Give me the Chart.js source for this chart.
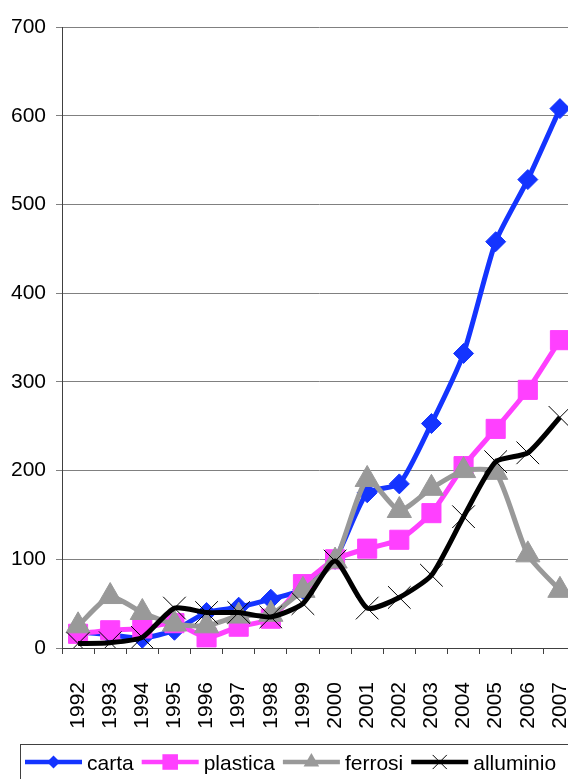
<!DOCTYPE html>
<html>
<head>
<meta charset="utf-8">
<script src="https://cdn.jsdelivr.net/npm/chart.js@4/dist/chart.umd.min.js"></script>
<style>
  html, body { margin: 0; padding: 0; background: #fff; overflow: hidden; }
  #wrap { width: 568px; height: 779px; overflow: hidden; }
  canvas { display: block; }
</style>
</head>
<body>
<div id="wrap"><canvas id="c" width="593" height="779"></canvas></div>
<script>
// Categories: years
const years = ['1992','1993','1994','1995','1996','1997','1998','1999','2000','2001','2002','2003','2004','2005','2006','2007'];

// Series values
const carta     = [18, 15, 11, 20, 40, 46, 55, 66, 100, 175, 185, 253, 332, 458, 528, 608];
const plastica  = [16, 20, 22, 28, 12, 24, 33, 72, 100, 112, 122, 152, 205, 247, 291, 347];
const ferrosi   = [25, 58, 40, 27, 25, 36, 38, 65, 98, 190, 155, 180, 200, 198, 105, 65];
const alluminio = [5, 6, 12, 45, 40, 40, 35, 50, 98, 45, 57, 82, 148, 210, 220, 260];

// Y axis ticks
const yTicks = [0, 100, 200, 300, 400, 500, 600, 700];

const FONT = 'Liberation Sans, Arial, sans-serif';

const series = [
  { label: 'carta',     data: carta,     color: '#1434FF', style: 'rectRot',  r: 10,   lr: 6.5, order: 4 },
  { label: 'plastica',  data: plastica,  color: '#FF40FF', style: 'rect',     r: 13.5, lr: 11,  order: 3 },
  { label: 'ferrosi',   data: ferrosi,   color: '#999999', style: 'triangle', r: 14,   lr: 9,   order: 2 },
  { label: 'alluminio', data: alluminio, color: '#000000', style: 'crossRot', r: 16,   lr: 10,  order: 1 }
];

// Marker painter for the legend
function marker(ctx, style, x, y, r, color) {
  ctx.save();
  ctx.fillStyle = color;
  ctx.strokeStyle = color;
  ctx.lineWidth = 1;
  ctx.beginPath();
  if (style === 'rectRot') {
    ctx.moveTo(x, y - r); ctx.lineTo(x + r, y); ctx.lineTo(x, y + r); ctx.lineTo(x - r, y); ctx.closePath();
    ctx.fill();
  } else if (style === 'rect') {
    const s = r * Math.SQRT1_2;
    ctx.rect(x - s, y - s, 2 * s, 2 * s);
    ctx.fill();
  } else if (style === 'triangle') {
    const a = Math.PI * 2 / 3;
    for (let i = 0; i < 3; i++) {
      const px = x + Math.sin(i * a) * r, py = y - Math.cos(i * a) * r;
      i ? ctx.lineTo(px, py) : ctx.moveTo(px, py);
    }
    ctx.closePath();
    ctx.fill();
  } else if (style === 'crossRot') {
    const d = r * Math.SQRT1_2;
    ctx.strokeStyle = '#000';
    ctx.moveTo(x - d, y - d); ctx.lineTo(x + d, y + d);
    ctx.moveTo(x + d, y - d); ctx.lineTo(x - d, y + d);
    ctx.stroke();
  }
  ctx.restore();
}

// Boxed legend under the axis labels, each entry a line sample with its marker
const boxLegend = {
  id: 'boxLegend',
  afterDraw(chart) {
    const ctx = chart.ctx;
    ctx.save();
    ctx.strokeStyle = '#404040';
    ctx.lineWidth = 1;
    ctx.strokeRect(20.5, 744.5, 600, 60);
    ctx.font = '21px ' + FONT;
    ctx.textBaseline = 'alphabetic';
    ctx.fillStyle = '#000';
    const cy = 762;
    let x = 25;
    series.forEach(s => {
      ctx.save();
      ctx.strokeStyle = s.color;
      ctx.lineWidth = 4.5;
      ctx.beginPath();
      ctx.moveTo(x, cy); ctx.lineTo(x + 57, cy);
      ctx.stroke();
      ctx.restore();
      marker(ctx, s.style, x + 28.5, cy, s.lr, s.color);
      const tx = x + 62;
      ctx.fillText(s.label, tx, cy + 8);
      x = tx + ctx.measureText(s.label).width + 8;
    });
    ctx.restore();
  }
};

new Chart(document.getElementById('c'), {
  type: 'line',
  data: {
    labels: years,
    datasets: series.map(s => ({
      label: s.label,
      data: s.data,
      order: s.order,
      borderColor: s.color,
      backgroundColor: s.color,
      borderWidth: 5,
      tension: 0.2,
      pointStyle: s.style,
      pointRadius: s.r,
      pointHoverRadius: s.r,
      pointBackgroundColor: s.color,
      pointBorderColor: s.color,
      pointBorderWidth: 1
    }))
  },
  options: {
    responsive: false,
    animation: false,
    layout: { padding: { left: 0, right: 4, top: 27, bottom: 0 } },
    plugins: { legend: { display: false }, tooltip: { enabled: false } },
    scales: {
      x: {
        offset: true,
        afterFit(scale) { scale.height = 131; scale.paddingLeft = 0; scale.paddingRight = 0; },
        grid: { offset: true, drawOnChartArea: false, drawTicks: true, tickLength: 6, color: '#404040', lineWidth: 1 },
        border: { color: '#404040', width: 1 },
        ticks: {
          autoSkip: false, minRotation: 90, maxRotation: 90, padding: 28,
          color: '#000', font: { family: FONT, size: 21 }
        }
      },
      y: {
        min: 0, max: 700,
        afterFit(scale) { scale.width = 62; scale.paddingTop = 0; scale.paddingBottom = 0; },
        afterBuildTicks(scale) { scale.ticks = yTicks.map(v => ({ value: v })); },
        grid: { color: '#808080', lineWidth: 1, tickLength: 6, drawTicks: true },
        border: { color: '#404040', width: 1 },
        ticks: { padding: 10, color: '#000', font: { family: FONT, size: 21 } }
      }
    }
  },
  plugins: [boxLegend]
});
</script>
</body>
</html>
